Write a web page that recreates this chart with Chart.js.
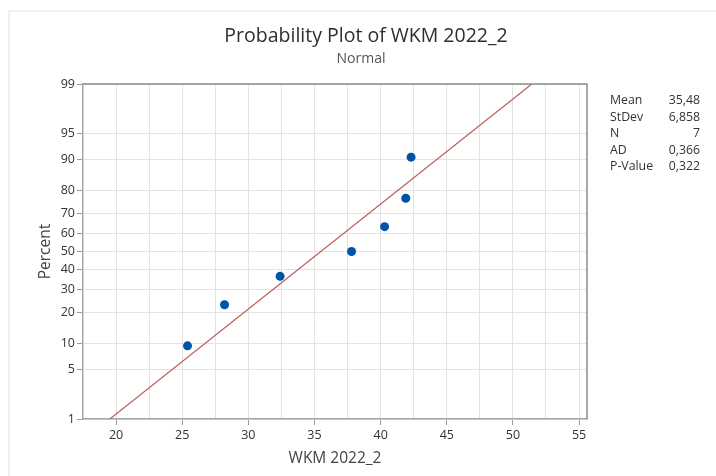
<!DOCTYPE html>
<html>
<head>
<meta charset="utf-8">
<script src="https://cdn.jsdelivr.net/npm/chart.js@4.4.1/dist/chart.umd.min.js"></script>
<style>
  html, body { margin: 0; padding: 0; background: #fff; }
  .wrap { position: relative; width: 716px; height: 476px; font-family: "Open Sans", "Noto Sans", sans-serif; }
  .frame { position: absolute; left: 8px; top: 10px; width: 720px; height: 480px; border-top: 2px solid #efefef; border-left: 2px solid #efefef; }
  canvas { position: absolute; left: 0; top: 0; }
  .title { position: absolute; left: 366px; top: 21px; transform: translateX(-50%); white-space: nowrap; font-size: 19.5px; color: #2e2e2e; }
  .subtitle { position: absolute; left: 361px; top: 48px; transform: translateX(-50%); white-space: nowrap; font-size: 14px; color: #555; }
  .stats { position: absolute; left: 610px; top: 92px; width: 90px; font-size: 12.3px; color: #333; border-collapse: collapse; }
  .stats td { padding: 0; height: 16.6px; line-height: 16.6px; }
  .stats td.v { text-align: right; }
</style>
</head>
<body>
<div class="wrap">
  <div class="frame"></div>
  <canvas id="chart" width="716" height="476"></canvas>
  <div class="title">Probability Plot of WKM 2022_2</div>
  <div class="subtitle">Normal</div>
  <table class="stats" id="stats"></table>
</div>
<script>
// data
const dataX = [25.4, 28.2, 32.4, 37.8, 40.3, 41.9, 42.3];
const dataPercent = [9.5, 23.0, 36.5, 50.0, 63.5, 77.0, 90.5];

// fitted line end points (percent 1 and 99)
const fitX = [19.53, 51.43];
const fitPercent = [1, 99];

const xTicks = [17.5, 20, 22.5, 25, 27.5, 30, 32.5, 35, 37.5, 40, 42.5, 45, 47.5, 50, 52.5, 55];
const yTickPercents = [1, 5, 10, 20, 30, 40, 50, 60, 70, 80, 90, 95, 99];

const statLabels = ["Mean", "StDev", "N", "AD", "P-Value"];
const statValues = ["35,48", "6,858", "7", "0,366", "0,322"];

// inverse normal cdf (Acklam)
function probit(p) {
  const a = [-3.969683028665376e+01, 2.209460984245205e+02, -2.759285104469687e+02, 1.383577518672690e+02, -3.066479806614716e+01, 2.506628277459239e+00];
  const b = [-5.447609879822406e+01, 1.615858368580409e+02, -1.556989798598866e+02, 6.680131188771972e+01, -1.328068155288572e+01];
  const c = [-7.784894002430293e-03, -3.223964580411365e-01, -2.400758277161838e+00, -2.549732539343734e+00, 4.374664141464968e+00, 2.938163982698783e+00];
  const d = [7.784695709041462e-03, 3.224671290700398e-01, 2.445134137142996e+00, 3.754408661907416e+00];
  const pl = 0.02425, ph = 1 - pl;
  let q, r;
  if (p < pl) {
    q = Math.sqrt(-2 * Math.log(p));
    return (((((c[0]*q+c[1])*q+c[2])*q+c[3])*q+c[4])*q+c[5]) / ((((d[0]*q+d[1])*q+d[2])*q+d[3])*q+1);
  }
  if (p <= ph) {
    q = p - 0.5; r = q * q;
    return (((((a[0]*r+a[1])*r+a[2])*r+a[3])*r+a[4])*r+a[5])*q / (((((b[0]*r+b[1])*r+b[2])*r+b[3])*r+b[4])*r+1);
  }
  q = Math.sqrt(-2 * Math.log(1 - p));
  return -(((((c[0]*q+c[1])*q+c[2])*q+c[3])*q+c[4])*q+c[5]) / ((((d[0]*q+d[1])*q+d[2])*q+d[3])*q+1);
}

function toPoints(xs, ps) {
  return xs.map((x, i) => ({ x: x, y: probit(ps[i] / 100) }));
}

const isMajor = v => Math.abs(v / 5 - Math.round(v / 5)) < 1e-6;

const frameBorder = {
  id: "frameBorder",
  afterDraw(chart) {
    const { ctx, chartArea: a } = chart;
    ctx.save();
    ctx.strokeStyle = "#8c8c8c";
    ctx.lineWidth = 1.5;
    ctx.beginPath();
    ctx.moveTo(a.left, a.top);
    ctx.lineTo(a.right, a.top);
    ctx.lineTo(a.right, a.bottom);
    ctx.stroke();
    ctx.restore();
  }
};

const tickFont = { family: "'Open Sans', 'Noto Sans', sans-serif", size: 12.5 };
const titleFont = { family: "'Open Sans', 'Noto Sans', sans-serif", size: 15.5 };

new Chart(document.getElementById("chart"), {
  type: "scatter",
  data: {
    datasets: [
      {
        label: "Fit",
        data: toPoints(fitX, fitPercent),
        showLine: true,
        borderColor: "rgb(192,92,88)",
        borderWidth: 1.2,
        pointRadius: 0,
        fill: false
      },
      {
        label: "WKM 2022_2",
        data: toPoints(dataX, dataPercent),
        backgroundColor: "#0054a6",
        borderWidth: 0,
        pointRadius: 4.5
      }
    ]
  },
  options: {
    responsive: false,
    animation: false,
    layout: { padding: { top: 84, right: 129, left: 0, bottom: 0 } },
    plugins: {
      legend: { display: false },
      tooltip: { enabled: false }
    },
    scales: {
      x: {
        type: "linear",
        min: 17.5,
        max: 55.6,
        afterBuildTicks: scale => { scale.ticks = xTicks.map(v => ({ value: v })); },
        afterFit: scale => { scale.height = 57; },
        ticks: {
          color: "#333",
          font: tickFont,
          padding: 3,
          maxRotation: 0,
          autoSkip: false,
          callback: v => (isMajor(v) && v >= 20 ? String(v) : "")
        },
        grid: {
          color: ctx => (ctx.tick && ctx.tick.value === 17.5 ? "rgba(0,0,0,0)" : "#e3e3e3"),
          tickColor: ctx => (ctx.tick && isMajor(ctx.tick.value) && ctx.tick.value >= 20 ? "#999" : "rgba(0,0,0,0)"),
          tickLength: 6
        },
        border: { color: "#a6a6a6", width: 1.5 },
        title: {
          display: true,
          text: "WKM 2022_2",
          color: "#444",
          font: titleFont,
          padding: { top: 0, bottom: 8 }
        }
      },
      y: {
        type: "linear",
        min: probit(0.01),
        max: probit(0.99),
        afterBuildTicks: scale => { scale.ticks = yTickPercents.map(p => ({ value: probit(p / 100) })); },
        afterFit: scale => { scale.width = 83; },
        ticks: {
          color: "#333",
          font: tickFont,
          padding: 2,
          autoSkip: false,
          callback: (v, i) => String(yTickPercents[i])
        },
        grid: {
          color: "#e3e3e3",
          tickColor: "#999",
          tickLength: 6
        },
        border: { color: "#a6a6a6", width: 1.5 },
        title: {
          display: true,
          text: "Percent",
          color: "#444",
          font: titleFont,
          padding: { top: 36, bottom: 0 }
        }
      }
    }
  },
  plugins: [frameBorder]
});

const table = document.getElementById("stats");
statLabels.forEach((label, i) => {
  const row = document.createElement("tr");
  row.innerHTML = `<td>${label}</td><td class="v">${statValues[i]}</td>`;
  table.appendChild(row);
});
</script>
</body>
</html>
